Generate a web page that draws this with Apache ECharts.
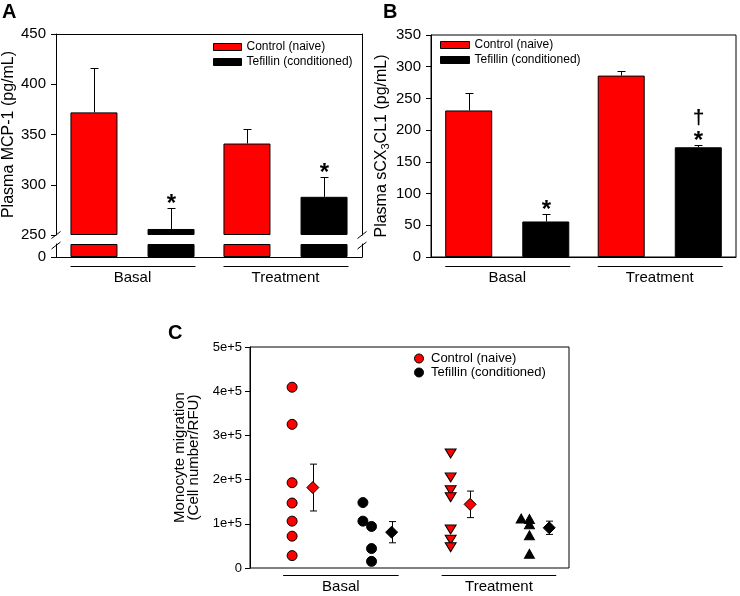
<!DOCTYPE html>
<html>
<head>
<meta charset="utf-8">
<script src="https://cdn.jsdelivr.net/npm/echarts@6/dist/echarts.min.js"></script>
<style>
  html, body { margin: 0; background: #fff; }
  #chart { width: 740px; height: 596px; }
</style>
</head>
<body>
<div id="chart"></div>
<script>
const groups = ['Basal', 'Treatment']
const CONTROL = 'Control (naive)'
const TEFILLIN = 'Tefillin (conditioned)'

// A: plasma MCP-1 (pg/mL), mean and SEM
const mcpControl = [372, 341]
const mcpControlErr = [44, 14]
const mcpTefillin = [256, 288]
const mcpTefillinErr = [21, 20]
const mcpMarks = ['*', '*']
const mcpBreak = 250
const mcpTicks = [250, 450, 50]

// B: plasma sCX3CL1 (pg/mL)
const cxControl = [231, 286]
const cxControlErr = [28, 8]
const cxTefillin = [56, 173]
const cxTefillinErr = [12, 3]
const cxMarks = ['*', '*†']

// C: monocyte migration, single animals (x = column on a hidden 0-10 axis)
const basalControl = [4.09e5, 3.25e5, 1.93e5, 1.47e5, 1.06e5, 0.72e5, 0.28e5]
const basalControlX = 1.32
const basalTefillin = [1.48e5, 1.06e5, 0.94e5, 0.44e5, 0.15e5]
const basalTefillinX = [3.54, 3.54, 3.81, 3.81, 3.81]
const treatControl = [2.59e5, 2.05e5, 1.76e5, 1.60e5, 0.87e5, 0.64e5, 0.47e5]
const treatControlX = 6.29
const treatTefillin = [1.12e5, 1.11e5, 0.99e5, 0.74e5, 0.32e5]
const treatTefillinX = [8.50, 8.76, 8.76, 8.76, 8.76]
// group means: basal control, basal tefillin, treatment control, treatment tefillin
const migMean = [1.82e5, 0.81e5, 1.44e5, 0.91e5]
const migErr = [0.53e5, 0.24e5, 0.30e5, 0.15e5]
const meanX = [1.97, 4.44, 6.90, 9.38]

const FONT = '"Liberation Sans", Arial, sans-serif'
const RED = '#ff0000'
const BAR_W = 47
const BAR_OFF = 38.5

const chart = echarts.init(document.getElementById('chart'))

const black = { color: '#000', width: 1 }

function errorBar(offset, marks) {
  return function (params, api) {
    const cat = api.value(0)
    const mean = api.value(1)
    const base = api.coord([cat, mean])
    const top = api.coord([cat, mean + api.value(2)])
    const x = Math.round(base[0] + offset) + 0.5
    const yt = Math.round(top[1]) + 0.5
    const kids = [
      { type: 'line', shape: { x1: x, y1: base[1], x2: x, y2: yt }, style: { stroke: '#000', lineWidth: 1 } },
      { type: 'line', shape: { x1: x - 4, y1: yt, x2: x + 4, y2: yt }, style: { stroke: '#000', lineWidth: 1 } }
    ]
    const mark = marks ? marks[params.dataIndex] : ''
    for (let i = 0; i < mark.length; i++) {
      const dagger = mark[i] === '†'
      kids.push({
        type: 'text',
        x: x,
        y: dagger ? yt - 27 : yt - 4 - i * 17,
        style: {
          text: mark[i], fill: '#000', fontFamily: FONT, fontWeight: 'bold',
          fontSize: dagger ? 21 : 24, align: 'center', verticalAlign: 'middle'
        }
      })
    }
    return { type: 'group', children: kids }
  }
}

function groupLine(params, api) {
  const c = api.coord([api.value(0), 0])
  const y = Math.round(c[1]) + 9.5
  return {
    type: 'line',
    shape: { x1: c[0] - 62, y1: y, x2: c[0] + 63, y2: y },
    style: { stroke: '#000', lineWidth: 1 }
  }
}

function groupLabelC(params, api) {
  const a = api.coord([api.value(0), 0])
  const b = api.coord([api.value(1), 0])
  const y = Math.round(a[1]) + 7.5
  return {
    type: 'group',
    children: [
      { type: 'line', shape: { x1: a[0] - 9, y1: y, x2: b[0] + 7, y2: y }, style: { stroke: '#000', lineWidth: 1 } },
      {
        type: 'text', x: (a[0] - 9 + b[0] + 7) / 2, y: y + 11,
        style: { text: groups[params.dataIndex], fill: '#000', fontFamily: FONT, fontSize: 15, align: 'center', verticalAlign: 'middle' }
      }
    ]
  }
}

function errorBarC(params, api) {
  const x = api.value(0), m = api.value(1), e = api.value(2)
  const hi = api.coord([x, m + e])
  const lo = api.coord([x, m - e])
  const px = Math.round(hi[0]) + 0.5
  const line = (x1, y1, x2, y2) => ({ type: 'line', shape: { x1, y1, x2, y2 }, style: { stroke: '#000', lineWidth: 1 } })
  return {
    type: 'group',
    children: [
      line(px, hi[1], px, lo[1]),
      line(px - 3.5, hi[1], px + 3.5, hi[1]),
      line(px - 3.5, lo[1], px + 3.5, lo[1])
    ]
  }
}

const barStyle = c => ({ color: c, borderColor: '#000', borderWidth: 1, opacity: 1 })
const hiddenBar = { color: 'rgba(0,0,0,0)', borderWidth: 0 }

const frameAxis = (gridIndex, position, min, max) => ({
  gridIndex, position, min, max, type: 'value',
  axisLine: { show: true, lineStyle: black },
  axisTick: { show: false }, axisLabel: { show: false }, splitLine: { show: false }
})

const legendItem = (name, color, icon) => ({
  name, icon, itemStyle: { color, borderColor: '#000', borderWidth: 1, opacity: 1 }
})

const option = {
  animation: false,
  textStyle: { fontFamily: FONT },
  grid: [
    { left: 56, top: 34, width: 306, height: 201, outerBoundsMode: 'none' },
    { left: 56, top: 244, width: 306, height: 13, outerBoundsMode: 'none' },
    { left: 431, top: 35, width: 305, height: 222, show: true, borderColor: '#000', borderWidth: 1, outerBoundsMode: 'none' },
    { left: 250, top: 347, width: 319, height: 221, show: true, borderColor: '#000', borderWidth: 1, outerBoundsMode: 'none' }
  ],
  xAxis: [
    { type: 'category', gridIndex: 0, position: 'top', data: groups,
      axisLine: { show: true, onZero: false, lineStyle: black }, axisTick: { show: false }, axisLabel: { show: false } },
    { type: 'category', gridIndex: 1, position: 'bottom', data: groups,
      axisLine: { show: true, onZero: false, lineStyle: black }, axisTick: { show: false },
      axisLabel: { color: '#000', fontSize: 15, margin: 13.5 } },
    { type: 'category', gridIndex: 2, data: groups,
      axisLine: { show: true, onZero: false, lineStyle: black }, axisTick: { show: false },
      axisLabel: { color: '#000', fontSize: 15, margin: 13.5 } },
    { type: 'value', gridIndex: 3, min: 0, max: 10, show: false }
  ],
  yAxis: [
    { type: 'value', gridIndex: 0, min: mcpTicks[0], max: mcpTicks[1], interval: mcpTicks[2],
      axisLine: { show: true, lineStyle: black }, axisTick: { show: true, length: 5, lineStyle: black },
      axisLabel: { color: '#000', fontSize: 15, margin: 10 }, splitLine: { show: false },
      name: 'Plasma MCP-1 (pg/mL)', nameLocation: 'middle', nameGap: 38,
      nameTextStyle: { color: '#000', fontSize: 16 } },
    frameAxis(0, 'right', mcpTicks[0], mcpTicks[1]),
    { type: 'value', gridIndex: 1, min: 0, max: mcpBreak,
      axisLine: { show: true, lineStyle: black },
      axisTick: { show: true, length: 5, lineStyle: black, customValues: [0] },
      axisLabel: { color: '#000', fontSize: 15, margin: 10, customValues: [0] }, splitLine: { show: false } },
    frameAxis(1, 'right', 0, mcpBreak),
    { type: 'value', gridIndex: 2, min: 0, max: 350, interval: 50,
      axisLine: { show: true, lineStyle: black }, axisTick: { show: true, length: 5, lineStyle: black },
      axisLabel: { color: '#000', fontSize: 15, margin: 10 }, splitLine: { show: false },
      name: 'Plasma sCX{sub|3}CL1 (pg/mL)', nameLocation: 'middle', nameGap: 40,
      nameTextStyle: { color: '#000', fontSize: 16,
        rich: { sub: { fontSize: 11, color: '#000', fontFamily: FONT, padding: [8, 0, 0, 0] } } } },
    { type: 'value', gridIndex: 3, min: 0, max: 5e5, interval: 1e5,
      axisLine: { show: true, lineStyle: black }, axisTick: { show: true, length: 5, lineStyle: black },
      axisLabel: { color: '#000', fontSize: 13, margin: 8,
        formatter: v => (v === 0 ? '0' : (v / 1e5) + 'e+5') },
      splitLine: { show: false },
      name: 'Monocyte migration\n(Cell number/RFU)', nameLocation: 'middle', nameGap: 49,
      nameTextStyle: { color: '#000', fontSize: 15, lineHeight: 14 } }
  ],
  legend: [
    { orient: 'vertical', left: 213, top: 41, padding: 0, itemWidth: 28, itemHeight: 7, itemGap: 3,
      textStyle: { color: '#000', fontSize: 12 }, selectedMode: false,
      data: [legendItem(CONTROL, RED, 'rect'), legendItem(TEFILLIN, '#000', 'rect')] },
    { orient: 'vertical', left: 440, top: 39, padding: 0, itemWidth: 29, itemHeight: 7, itemGap: 3,
      textStyle: { color: '#000', fontSize: 12 }, selectedMode: false,
      data: [legendItem(CONTROL, RED, 'rect'), legendItem(TEFILLIN, '#000', 'rect')] },
    { orient: 'vertical', left: 414, top: 352, padding: 0, itemWidth: 14, itemHeight: 9, itemGap: 1,
      textStyle: { color: '#000', fontSize: 13 }, selectedMode: false,
      data: [legendItem(CONTROL, RED, 'circle'), legendItem(TEFILLIN, '#000', 'circle')] }
  ],
  graphic: [
    { type: 'text', left: 2, top: 2, style: { text: 'A', fontSize: 20, fontWeight: 'bold', fill: '#000', fontFamily: FONT } },
    { type: 'text', left: 383, top: 2, style: { text: 'B', fontSize: 20, fontWeight: 'bold', fill: '#000', fontFamily: FONT } },
    { type: 'text', left: 168, top: 323, style: { text: 'C', fontSize: 20, fontWeight: 'bold', fill: '#000', fontFamily: FONT } },
    // axis break marks on panel A
    ...[56, 362].flatMap(x => [235, 245.5].map(y => ({
      type: 'line', shape: { x1: x - 4.5, y1: y + 3.5, x2: x + 4.5, y2: y - 3.5 },
      style: { stroke: '#000', lineWidth: 1 }, z: 10
    })))
  ],
  series: [
    // A, upper segment
    { type: 'bar', name: 'base-c', xAxisIndex: 0, yAxisIndex: 0, stack: 'ac', barWidth: BAR_W, barGap: '64%',
      data: mcpControl.map(() => mcpBreak), itemStyle: hiddenBar, silent: true, clip: false },
    { type: 'bar', name: CONTROL, xAxisIndex: 0, yAxisIndex: 0, stack: 'ac', barWidth: BAR_W, barGap: '64%',
      data: mcpControl.map(v => v - mcpBreak), itemStyle: barStyle(RED), clip: false },
    { type: 'bar', name: 'base-t', xAxisIndex: 0, yAxisIndex: 0, stack: 'at', barWidth: BAR_W, barGap: '64%',
      data: mcpTefillin.map(() => mcpBreak), itemStyle: hiddenBar, silent: true, clip: false },
    { type: 'bar', name: TEFILLIN, xAxisIndex: 0, yAxisIndex: 0, stack: 'at', barWidth: BAR_W, barGap: '64%',
      data: mcpTefillin.map(v => v - mcpBreak), itemStyle: barStyle('#000'), clip: false },
    // A, lower segment below the break
    { type: 'bar', name: CONTROL, xAxisIndex: 1, yAxisIndex: 2, barWidth: BAR_W, barGap: '64%',
      data: mcpControl.map(v => Math.min(v, mcpBreak)), itemStyle: barStyle(RED), clip: false },
    { type: 'bar', name: TEFILLIN, xAxisIndex: 1, yAxisIndex: 2, barWidth: BAR_W, barGap: '64%',
      data: mcpTefillin.map(v => Math.min(v, mcpBreak)), itemStyle: barStyle('#000'), clip: false },
    { type: 'custom', xAxisIndex: 0, yAxisIndex: 0, renderItem: errorBar(-BAR_OFF, null), z: 5,
      data: groups.map((g, i) => [i, mcpControl[i], mcpControlErr[i]]) },
    { type: 'custom', xAxisIndex: 0, yAxisIndex: 0, renderItem: errorBar(BAR_OFF, mcpMarks), z: 5,
      data: groups.map((g, i) => [i, mcpTefillin[i], mcpTefillinErr[i]]) },
    { type: 'custom', xAxisIndex: 1, yAxisIndex: 2, renderItem: groupLine,
      data: groups.map((g, i) => [i, 0]) },

    // B
    { type: 'bar', name: CONTROL, xAxisIndex: 2, yAxisIndex: 4, barWidth: BAR_W, barGap: '64%',
      data: cxControl, itemStyle: barStyle(RED) },
    { type: 'bar', name: TEFILLIN, xAxisIndex: 2, yAxisIndex: 4, barWidth: BAR_W, barGap: '64%',
      data: cxTefillin, itemStyle: barStyle('#000') },
    { type: 'custom', xAxisIndex: 2, yAxisIndex: 4, renderItem: errorBar(-BAR_OFF, null), z: 5,
      data: groups.map((g, i) => [i, cxControl[i], cxControlErr[i]]) },
    { type: 'custom', xAxisIndex: 2, yAxisIndex: 4, renderItem: errorBar(BAR_OFF, cxMarks), z: 5,
      data: groups.map((g, i) => [i, cxTefillin[i], cxTefillinErr[i]]) },
    { type: 'custom', xAxisIndex: 2, yAxisIndex: 4, renderItem: groupLine,
      data: groups.map((g, i) => [i, 0]) },

    // C
    { type: 'scatter', name: CONTROL, xAxisIndex: 3, yAxisIndex: 5, symbol: 'circle', symbolSize: 10,
      itemStyle: barStyle(RED), data: basalControl.map(v => [basalControlX, v]) },
    { type: 'scatter', name: TEFILLIN, xAxisIndex: 3, yAxisIndex: 5, symbol: 'circle', symbolSize: 10,
      itemStyle: barStyle('#000'), data: basalTefillin.map((v, i) => [basalTefillinX[i], v]) },
    { type: 'scatter', name: CONTROL, xAxisIndex: 3, yAxisIndex: 5, symbol: 'triangle', symbolRotate: 180,
      symbolSize: [11, 9], itemStyle: barStyle(RED), data: treatControl.map(v => [treatControlX, v]) },
    { type: 'scatter', name: TEFILLIN, xAxisIndex: 3, yAxisIndex: 5, symbol: 'triangle',
      symbolSize: [10, 9], itemStyle: barStyle('#000'), data: treatTefillin.map((v, i) => [treatTefillinX[i], v]) },
    { type: 'custom', xAxisIndex: 3, yAxisIndex: 5, renderItem: errorBarC, z: 3,
      data: migMean.map((m, i) => [meanX[i], m, migErr[i]]) },
    { type: 'scatter', name: 'means', xAxisIndex: 3, yAxisIndex: 5, symbol: 'diamond', symbolSize: 12, z: 4,
      data: migMean.map((m, i) => ({ value: [meanX[i], m], itemStyle: barStyle(i % 2 ? '#000' : RED) })) },
    { type: 'custom', xAxisIndex: 3, yAxisIndex: 5, renderItem: groupLabelC,
      data: [[basalControlX, meanX[1]], [treatControlX, meanX[3]]] }
  ]
}

chart.setOption(option)
</script>
</body>
</html>
